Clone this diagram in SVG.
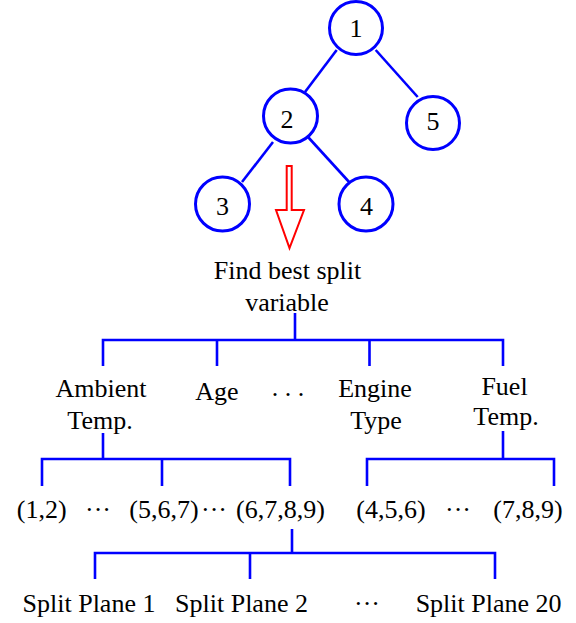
<svg xmlns="http://www.w3.org/2000/svg" width="576" height="623" viewBox="0 0 576 623">
<style>
.n{fill:#fff;stroke:#0000FF;stroke-width:3}
.c{fill:none;stroke:#0000FF;stroke-width:2.6;stroke-linecap:butt;stroke-linejoin:miter}
text{font-family:"Liberation Serif","Times New Roman",serif;font-size:26px;fill:#000;text-anchor:middle}
</style>
<rect width="576" height="623" fill="#fff"/>
<g id="connectors">
<line class="c" x1="336.7" y1="50" x2="305" y2="92"/>
<line class="c" x1="375.7" y1="50" x2="417.7" y2="97"/>
<line class="c" x1="273" y1="142" x2="242" y2="182"/>
<line class="c" x1="308" y1="137" x2="350" y2="183"/>
<path class="c" d="M295 313V340M103 366V340H503V366M217 340V366M369.5 340V366"/>
<path class="c" d="M103 433V459M42 486V459H290V486M162 459V486"/>
<path class="c" d="M503 431V459M367 486V459H554V486"/>
<path class="c" d="M292 529V553M95 579V553H495V579M250 553V579"/>
</g>
<g id="node1"><circle class="n" cx="356" cy="28" r="26.5"/><text x="356" y="37">1</text></g>
<g id="node2"><circle class="n" cx="290.5" cy="116" r="27"/><text x="287" y="128">2</text></g>
<g id="node5"><circle class="n" cx="433" cy="123" r="26.5"/><text x="433" y="130">5</text></g>
<g id="node3"><circle class="n" cx="222.5" cy="204" r="27"/><text x="222.5" y="215">3</text></g>
<g id="node4"><circle class="n" cx="366" cy="204" r="27"/><text x="366.5" y="215">4</text></g>
<g id="arrow"><polygon points="286.7,166 291.7,166 291.7,210 304,210 289.5,248 276,210 286.7,210" fill="#fff" stroke="#FF0000" stroke-width="2"/></g>
<g id="find"><text x="287.5" y="279">Find best split</text><text x="287" y="311">variable</text></g>
<g id="ambient"><text x="101" y="397">Ambient</text><text x="100" y="429">Temp.</text></g>
<g id="age"><text x="217" y="400">Age</text></g>
<g id="dots1"><text x="288" y="396">. . .</text></g>
<g id="engine"><text x="375" y="397">Engine</text><text x="376" y="429">Type</text></g>
<g id="fuel"><text x="504.5" y="395">Fuel</text><text x="506" y="425">Temp.</text></g>
<g id="v12"><text x="41.7" y="518">(1,2)</text></g>
<g id="d2"><text x="98" y="518">···</text></g>
<g id="v567"><text x="164" y="518">(5,6,7)</text></g>
<g id="d3"><text x="214" y="518">···</text></g>
<g id="v6789"><text x="280.5" y="518">(6,7,8,9)</text></g>
<g id="v456"><text x="391" y="518">(4,5,6)</text></g>
<g id="d4"><text x="458" y="518">···</text></g>
<g id="v789"><text x="528" y="518">(7,8,9)</text></g>
<g id="sp1"><text x="89" y="612">Split Plane 1</text></g>
<g id="sp2"><text x="241.5" y="612">Split Plane 2</text></g>
<g id="d5"><text x="367" y="612">···</text></g>
<g id="sp20"><text x="488.6" y="612">Split Plane 20</text></g>
</svg>
